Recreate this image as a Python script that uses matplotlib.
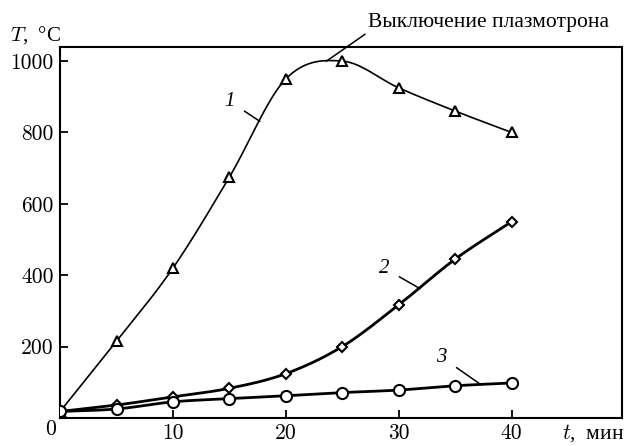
import numpy as np
import matplotlib.pyplot as plt

plt.rcParams['font.family'] = ['Liberation Serif', 'DejaVu Serif']
plt.rcParams['mathtext.fontset'] = 'cm'

t = np.array([0, 5, 10, 15, 20, 25, 30, 35, 40])
T1 = np.array([18, 215, 420, 675, 950, 1000, 925, 860, 800])
T2 = np.array([18, 36, 59, 83, 124, 200, 317, 445, 550])
T3 = np.array([18, 25, 45, 54, 62, 71, 78, 90, 98])

yticks = [200, 400, 600, 800, 1000]
xticks = [10, 20, 30, 40]


def smooth(x, y, n=20):
    # catmull-rom through the points, only for drawing the line
    x = np.asarray(x, float)
    y = np.asarray(y, float)
    xs, ys = [], []
    for i in range(len(x) - 1):
        y0 = y[i - 1] if i > 0 else 2 * y[i] - y[i + 1]
        y3 = y[i + 2] if i + 2 < len(y) else 2 * y[i + 1] - y[i]
        m0 = (y[i + 1] - y0) / 2
        m1 = (y3 - y[i]) / 2
        s = np.linspace(0, 1, n, endpoint=False)
        h00 = 2 * s**3 - 3 * s**2 + 1
        h10 = s**3 - 2 * s**2 + s
        h01 = -2 * s**3 + 3 * s**2
        h11 = s**3 - s**2
        xs.append(x[i] + s * (x[i + 1] - x[i]))
        ys.append(h00 * y[i] + h10 * m0 + h01 * y[i + 1] + h11 * m1)
    xs.append([x[-1]])
    ys.append([y[-1]])
    return np.concatenate(xs), np.concatenate(ys)


fig = plt.figure(figsize=(6.26, 4.46), dpi=100)
ax = fig.add_axes([0.096, 0.063, 0.898, 0.832])

for y, lw, mk, ms in [(T1, 1.2, '^', 7), (T2, 2.0, 'D', 5), (T3, 2.0, 'o', 8)]:
    xs, ys = smooth(t, y)
    ax.plot(xs, ys, color='black', lw=lw, zorder=2)
    ax.plot(t, y, ls='none', marker=mk, ms=ms, mfc='white', mec='black',
            mew=1.5, zorder=3)

ax.set_xlim(0, 49.8)
ax.set_ylim(0, 1040)
ax.set_xticks(xticks)
ax.set_yticks(yticks)
ax.set_xticklabels([str(v) for v in xticks], fontfamily='cmr10')
ax.set_yticklabels([str(v) for v in yticks], fontfamily='cmr10')
ax.tick_params(direction='in', length=6, width=1.3, labelsize=15.5,
               colors='black')
ax.tick_params(axis='y', pad=4.5)
ax.tick_params(axis='x', pad=4)
for sp in ax.spines.values():
    sp.set_linewidth(1.5)

# curve labels with leader lines
lab = dict(fontsize=15, style='italic', ha='center', va='center')
ax.annotate('1', xy=(17.7, 831), xytext=(15.0, 888), **lab,
            arrowprops=dict(arrowstyle='-', lw=1.1, shrinkA=6, shrinkB=0))
ax.annotate('2', xy=(31.9, 362), xytext=(28.7, 420), **lab,
            arrowprops=dict(arrowstyle='-', lw=1.1, shrinkA=6, shrinkB=0))
ax.annotate('3', xy=(37.2, 95), xytext=(33.8, 170), **lab,
            arrowprops=dict(arrowstyle='-', lw=1.1, shrinkA=6, shrinkB=0))

# switch-off note
ax.plot([23.6, 27.0], [1000, 1075], color='black', lw=1.1, clip_on=False)
fig.text(0.588, 0.95, 'Выключение плазмотрона', fontsize=15.5,
         ha='left', va='center')

fig.text(0.016, 0.921, r'$T$,  °C', fontsize=15, ha='left', va='center')
fig.text(0.08, 0.038, '0', fontsize=15.5, family='cmr10',
         ha='center', va='center')
fig.text(0.897, 0.028, r'$t$,  мин', fontsize=15.5, ha='left', va='center')

fig.savefig('out.png', dpi=100)
